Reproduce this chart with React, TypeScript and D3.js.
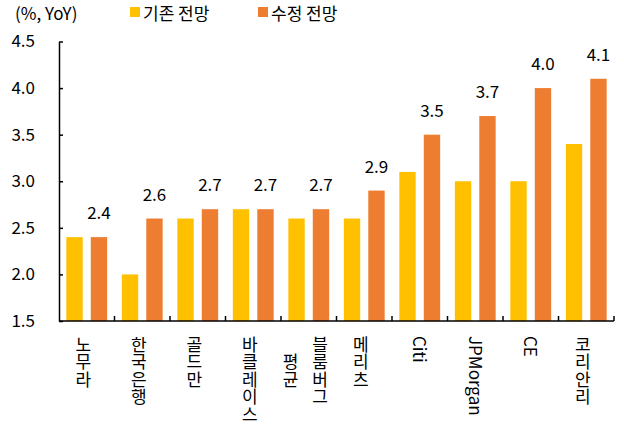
import { useRef, useEffect } from "react";
import * as d3 from "d3";

const categories = ["노무라", "한국은행", "골드만", "바클레이스", "블룸버그\n평균", "메리츠", "Citi", "JPMorgan", "CE", "코리안리"];
const prevForecast = [2.4, 2.0, 2.6, 2.7, 2.6, 2.6, 3.1, 3.0, 3.0, 3.4];
const newForecast = [2.4, 2.6, 2.7, 2.7, 2.7, 2.9, 3.5, 3.7, 4.0, 4.1];
const seriesNames = ["기존 전망", "수정 전망"];
const seriesColors = ["#FFC000", "#ED7D31"];
const yTicks = [1.5, 2.0, 2.5, 3.0, 3.5, 4.0, 4.5];
const unitLabel = "(%, YoY)";

const FONT = "'Noto Sans CJK KR', 'Noto Sans', sans-serif";

export default function App() {
  const svgRef = useRef<SVGSVGElement>(null);

  useEffect(() => {
    if (!svgRef.current) return;
    const width = 624;
    const height = 436;
    const plot = { left: 59, right: 614, top: 41.5, bottom: 321 };

    const svg = d3.select(svgRef.current);
    svg.selectAll("*").remove();
    svg.attr("width", width).attr("height", height).attr("viewBox", `0 0 ${width} ${height}`);

    const x = d3.scaleBand<string>().domain(categories).range([plot.left, plot.right]);
    const x1 = d3
      .scaleBand<string>()
      .domain(seriesNames)
      .range([0, x.bandwidth()])
      .paddingInner(0.33)
      .paddingOuter(0.3);
    const y = d3.scaleLinear().domain([1.5, 4.5]).range([plot.bottom, plot.top]);

    const rows = categories.map((c, i) => ({ cat: c, values: [prevForecast[i], newForecast[i]] }));

    // Bars
    const groups = svg
      .selectAll(".grp")
      .data(rows)
      .join("g")
      .attr("class", "grp")
      .attr("transform", (d) => `translate(${x(d.cat)},0)`);

    groups
      .selectAll("rect")
      .data((d) => d.values.map((v, j) => ({ v, s: seriesNames[j], j })))
      .join("rect")
      .attr("x", (d) => x1(d.s)!)
      .attr("width", x1.bandwidth())
      .attr("y", (d) => y(d.v))
      .attr("height", (d) => y(1.5) - y(d.v))
      .attr("fill", (d) => seriesColors[d.j]);

    // Value labels above revised bars
    groups
      .append("text")
      .attr("x", x1(seriesNames[1])! + x1.bandwidth() / 2)
      .attr("y", (d) => y(d.values[1]) - 18)
      .attr("text-anchor", "middle")
      .style("font-family", FONT)
      .style("font-size", "17px")
      .style("fill", "#000")
      .text((d) => d.values[1].toFixed(1));

    // Y axis
    const yAxis = svg
      .append("g")
      .attr("transform", `translate(${plot.left},0)`)
      .call(d3.axisLeft(y).tickValues(yTicks).tickSize(-4).tickSizeOuter(0).tickPadding(24).tickFormat(d3.format(".1f")));
    yAxis.select(".domain").attr("stroke", "#000").attr("stroke-width", 1.5);
    yAxis.selectAll(".tick line").attr("stroke", "#000").attr("stroke-width", 1.5);
    yAxis
      .selectAll(".tick text")
      .style("font-family", FONT)
      .style("font-size", "17px")
      .style("fill", "#000");

    // X axis line and category boundary ticks
    const xg = svg.append("g");
    xg.append("line")
      .attr("x1", plot.left)
      .attr("x2", plot.right)
      .attr("y1", plot.bottom)
      .attr("y2", plot.bottom)
      .attr("stroke", "#000")
      .attr("stroke-width", 1.5);
    const bounds = categories.slice(1).map((c) => x(c)!).concat([plot.right]);
    xg.selectAll(".xtick")
      .data(bounds)
      .join("line")
      .attr("class", "xtick")
      .attr("x1", (d) => d)
      .attr("x2", (d) => d)
      .attr("y1", plot.bottom)
      .attr("y2", plot.bottom - 5)
      .attr("stroke", "#000")
      .attr("stroke-width", 1.5);

    // Vertical category labels (Hangul upright, Latin rotated)
    const fs = 17;
    const spacing = 0.5;
    const labelTop = plot.bottom + 15;
    const hangul = /[\uac00-\ud7a3]/;
    categories.forEach((c) => {
      const lines = c.split("\n");
      const cx = x(c)! + x.bandwidth() / 2;
      const colGap = 29.5;
      const maxLen = d3.max(lines, (l) => l.length)! * (fs + spacing);
      lines.forEach((line, k) => {
        const isHangul = hangul.test(line);
        const lx = cx + (isHangul ? -3.5 : 1) + ((lines.length - 1) / 2 - k) * colGap;
        const t = xg
          .append("text")
          .attr("x", lx)
          .style("font-family", FONT)
          .style("font-size", `${fs}px`)
          .style("letter-spacing", isHangul ? `${spacing}px` : "0px")
          .style("fill", "#000")
          .style("writing-mode", "vertical-rl")
          .text(line);
        if (lines.length > 1) {
          t.attr("y", labelTop + maxLen / 2).attr("text-anchor", "middle");
        } else {
          t.attr("y", labelTop).attr("text-anchor", "start");
        }
      });
    });

    // Legend
    const lg = svg.append("g");
    lg.append("text")
      .attr("x", 15)
      .attr("y", 20)
      .style("font-family", FONT)
      .style("font-size", "17px")
      .text(unitLabel);
    const legendX = [130, 258];
    seriesNames.forEach((s, i) => {
      lg.append("rect")
        .attr("x", legendX[i])
        .attr("y", 7)
        .attr("width", 10)
        .attr("height", 10)
        .attr("fill", seriesColors[i]);
      lg.append("text")
        .attr("x", legendX[i] + 13)
        .attr("y", 20)
        .style("font-family", FONT)
        .style("font-size", "17px")
        .text(s);
    });
  }, []);

  return <svg ref={svgRef} style={{ position: "absolute", left: 0, top: 0, background: "#fff" }} />;
}
